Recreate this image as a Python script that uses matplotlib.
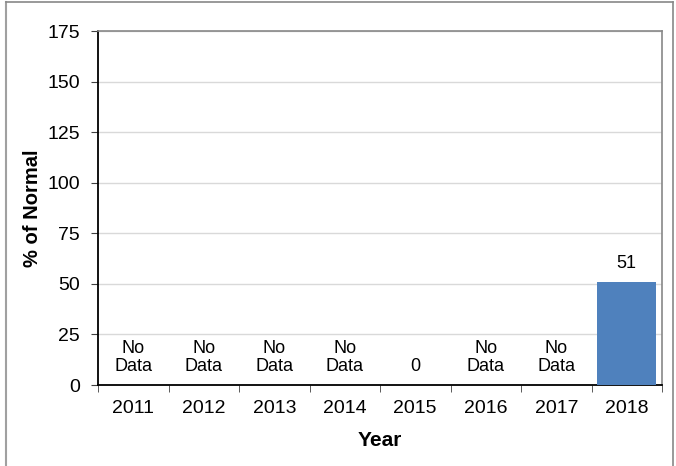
import matplotlib
matplotlib.use("Agg")
import matplotlib.pyplot as plt

years = ["2011", "2012", "2013", "2014", "2015", "2016", "2017", "2018"]
values = [None, None, None, None, 0, None, None, 51]
yticks = [0, 25, 50, 75, 100, 125, 150, 175]

plt.rcParams['font.family'] = ['Liberation Sans', 'DejaVu Sans']

W, H = 676, 466
fig = plt.figure(figsize=(W / 100, H / 100), dpi=100)
fig.patch.set_facecolor('white')

# outer frame (top, left, right)
fig.add_artist(plt.Line2D([6 / W, 6 / W], [0, 1 - 2 / H], color='#a0a0a0', lw=1.5, transform=fig.transFigure))
fig.add_artist(plt.Line2D([6 / W, 673 / W], [1 - 2 / H, 1 - 2 / H], color='#888888', lw=1.2, transform=fig.transFigure))
fig.add_artist(plt.Line2D([673 / W, 673 / W], [0, 1 - 2 / H], color='#888888', lw=1.2, transform=fig.transFigure))

left, right, top, bottom = 98, 662, 31, 385
ax = fig.add_axes([left / W, 1 - bottom / H, (right - left) / W, (bottom - top) / H])

x = list(range(len(years)))
bar_vals = [v if v is not None else 0 for v in values]
ax.bar(x, bar_vals, width=0.84, color='#4f81bd', zorder=3)

ax.set_xlim(-0.5, len(years) - 0.5)
ax.set_ylim(0, 175)
ax.set_yticks(yticks)
ax.set_yticklabels([str(t) for t in yticks], fontsize=14)
ax.yaxis.grid(True, color='#d9d9d9', lw=1, zorder=0)
ax.set_axisbelow(True)

ax.set_xticks(x)
ax.set_xticklabels(years, fontsize=14)
ax.tick_params(axis='x', length=0, pad=11)
ax.set_xticks([i - 0.5 for i in range(len(years) + 1)], minor=True)
ax.tick_params(axis='x', which='minor', length=5, direction='out', color='#404040')
ax.tick_params(axis='y', length=5, direction='out', pad=8, color='#404040')

for s in ['top', 'right']:
    ax.spines[s].set_color('#888888')
    ax.spines[s].set_linewidth(1.2)
for s in ['left', 'bottom']:
    ax.spines[s].set_color('black')
    ax.spines[s].set_linewidth(1.3)

for i, v in enumerate(values):
    if v is None:
        ax.annotate("No\nData", (i, 0), xytext=(0, 7), textcoords='offset points',
                    ha='center', va='bottom', fontsize=13, linespacing=1.1)
    else:
        ax.annotate(str(v), (i, v), xytext=(0, 7), textcoords='offset points',
                    ha='center', va='bottom', fontsize=13)

ax.set_ylabel("% of Normal", fontsize=14.5, fontweight='bold', labelpad=4)
ax.set_xlabel("Year", fontsize=15, fontweight='bold', labelpad=10)

fig.savefig("out.png", dpi=100)
